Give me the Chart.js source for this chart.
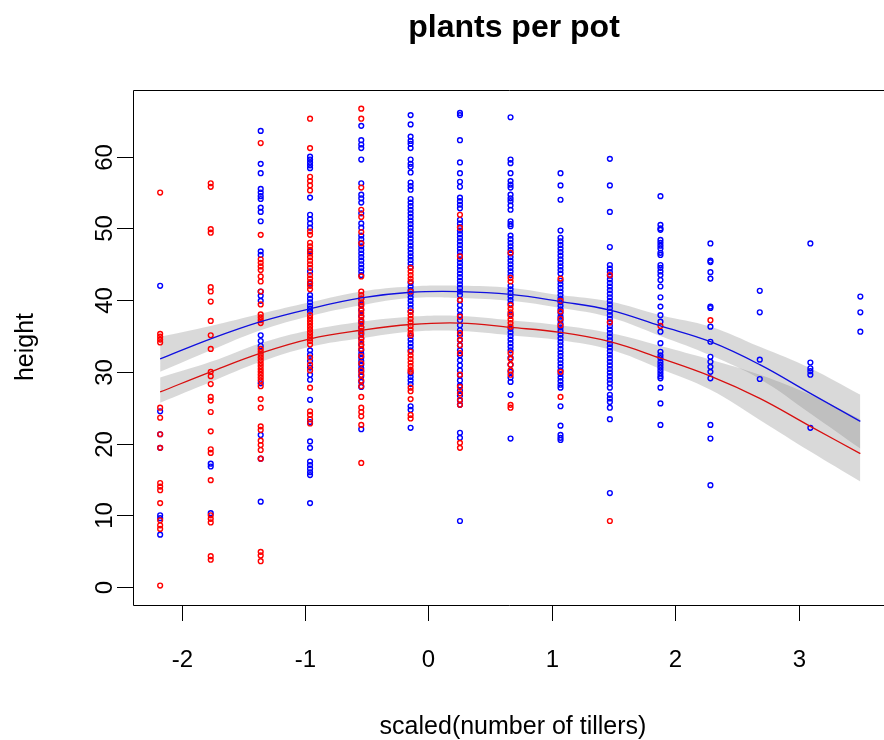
<!DOCTYPE html>
<html><head><meta charset="utf-8">
<script src="https://cdn.jsdelivr.net/npm/chart.js@4.4.1/dist/chart.umd.min.js"></script>
<style>html,body{margin:0;padding:0;background:#fff;}#wrap{width:884px;height:740px;}</style>
</head><body><div id="wrap"><canvas id="c" width="884" height="740"></canvas></div>
<script>
const chartTitle = 'plants per pot';
const xTitle = 'scaled(number of tillers)';
const yTitle = 'height';
const xTicks = [-2, -1, 0, 1, 2, 3];
const yTicks = [0, 10, 20, 30, 40, 50, 60];
const tillerLevels = [-2.175, -1.765, -1.36, -0.96, -0.545, -0.145, 0.255, 0.665, 1.07, 1.47, 1.88, 2.285, 2.685, 3.095, 3.5];

const redHeights = [
  [55.0, 35.3, 34.9, 34.5, 34.1, 25.0, 23.6, 21.3, 19.4, 14.5, 14.0, 13.5, 11.7, 9.3, 8.6, 8.1, 0.2],
  [56.3, 55.8, 49.9, 49.4, 41.8, 41.2, 39.8, 37.1, 35.1, 33.2, 30.0, 29.4, 28.3, 26.5, 26.0, 24.4, 21.7, 19.2, 18.7, 14.9, 10.0, 9.5, 9.0, 4.3, 3.8],
  [61.9, 49.1, 45.7, 45.2, 44.7, 44.2, 43.3, 42.6, 41.2, 39.4, 38.0, 37.6, 37.2, 36.8, 33.2, 32.8, 32.4, 32.0, 31.6, 31.2, 30.8, 30.4, 30.0, 29.6, 29.2, 28.8, 28.0, 26.2, 25.0, 22.4, 21.9, 20.4, 19.8, 19.1, 17.9, 4.9, 4.4, 3.6],
  [65.3, 61.2, 57.2, 56.6, 56.0, 55.3, 49.6, 49.1, 48.0, 47.5, 47.0, 46.5, 46.0, 45.5, 45.0, 44.5, 43.5, 43.0, 42.5, 42.0, 41.5, 37.9, 37.5, 37.1, 36.7, 36.3, 35.9, 35.5, 35.1, 34.7, 34.3, 33.8, 32.0, 31.0, 30.2, 27.8, 24.5, 24.0, 23.4, 22.8],
  [66.7, 65.3, 55.7, 52.6, 51.6, 49.5, 47.9, 43.3, 41.2, 40.7, 40.2, 39.7, 39.2, 38.7, 38.2, 37.7, 37.2, 36.7, 36.2, 35.7, 35.2, 34.7, 34.2, 33.7, 33.2, 32.2, 31.2, 30.2, 29.6, 28.8, 28.0, 26.5, 25.0, 24.4, 23.8, 22.6, 17.3],
  [44.5, 44.0, 43.5, 43.0, 42.6, 41.2, 38.4, 37.9, 37.4, 36.9, 36.4, 35.9, 35.4, 35.1, 32.8, 32.3, 31.8, 31.3, 30.8, 30.3, 30.0, 27.8, 27.3, 26.2, 24.0, 23.5],
  [51.9, 50.1, 46.1, 40.0, 37.7, 35.4, 34.5, 33.7, 32.6, 29.6, 27.9, 27.0, 26.1, 25.4, 20.1, 19.4],
  [46.6, 43.1, 42.6, 39.3, 38.8, 38.3, 37.8, 37.3, 36.8, 36.3, 32.6, 31.8, 31.0, 30.2, 29.6, 25.4, 25.0],
  [43.0, 39.9, 38.4, 37.4, 36.5, 30.0, 26.5],
  [43.5, 36.9, 9.2],
  [36.4],
  [37.2],
  [],
  [],
  []
];

const blueHeights = [
  [42.0, 24.5, 21.3, 19.4, 10.0, 9.6, 7.3],
  [17.2, 16.8, 10.3],
  [63.6, 59.0, 57.7, 55.5, 55.0, 54.5, 54.1, 52.9, 52.3, 51.0, 46.8, 46.3, 41.2, 40.6, 39.9, 35.1, 34.3, 33.6, 28.4, 21.2, 17.9, 11.9],
  [60.0, 59.6, 59.2, 58.8, 58.4, 54.3, 51.9, 51.3, 50.7, 50.1, 46.8, 44.0, 42.3, 40.7, 40.2, 39.7, 39.2, 38.8, 38.4, 33.0, 32.4, 31.5, 30.6, 29.6, 28.9, 26.1, 23.0, 20.3, 19.4, 17.5, 17.0, 16.5, 16.0, 15.6, 11.7],
  [64.3, 62.3, 61.7, 61.2, 59.6, 56.3, 54.7, 54.2, 53.6, 52.1, 50.7, 50.1, 49.0, 48.5, 48.0, 47.5, 47.0, 46.5, 46.0, 45.5, 45.0, 44.5, 44.0, 43.5, 40.2, 39.4, 38.6, 37.8, 37.0, 36.2, 35.4, 34.6, 33.8, 33.0, 32.5, 32.0, 31.5, 31.0, 30.5, 30.0, 29.4, 28.6, 27.9, 22.0],
  [65.8, 64.5, 62.8, 62.2, 61.8, 61.2, 59.6, 59.0, 58.6, 57.8, 56.4, 55.9, 55.4, 54.1, 53.6, 53.1, 52.6, 52.1, 51.6, 51.1, 50.6, 50.1, 49.6, 49.1, 48.6, 48.1, 47.6, 47.1, 46.6, 46.1, 45.6, 45.1, 44.6, 42.4, 41.9, 41.4, 40.9, 40.4, 39.9, 39.4, 38.9, 38.4, 35.0, 34.5, 34.0, 33.5, 33.0, 29.8, 29.3, 28.8, 28.3, 25.2, 24.7, 22.2],
  [66.1, 65.8, 62.3, 59.2, 57.7, 56.5, 55.8, 54.3, 53.8, 53.3, 52.8, 51.2, 50.7, 50.2, 49.7, 49.2, 48.7, 48.2, 47.7, 47.2, 46.7, 46.2, 45.7, 45.2, 44.7, 44.2, 43.7, 43.2, 42.7, 42.2, 41.7, 41.2, 40.7, 40.0, 39.3, 38.6, 37.9, 37.2, 36.5, 35.8, 35.1, 34.4, 33.7, 33.0, 32.3, 31.6, 30.9, 30.2, 29.5, 28.8, 28.1, 27.4, 26.7, 26.0, 25.4, 21.5, 20.8, 9.2],
  [65.5, 59.6, 59.1, 57.7, 56.6, 56.1, 55.7, 54.7, 54.2, 53.8, 53.2, 52.6, 51.0, 50.6, 50.3, 49.0, 48.5, 48.0, 47.5, 47.0, 46.5, 46.0, 45.5, 45.0, 44.5, 44.0, 43.5, 42.0, 41.5, 41.0, 40.5, 40.0, 39.5, 38.0, 36.0, 35.5, 35.0, 34.5, 34.0, 33.5, 33.0, 32.0, 31.0, 30.0, 29.2, 28.6, 26.8, 20.7],
  [57.7, 56.0, 54.0, 49.7, 48.7, 48.2, 47.7, 47.2, 46.7, 46.2, 45.7, 45.2, 44.7, 44.2, 43.7, 42.7, 42.2, 41.7, 41.2, 40.7, 40.2, 39.7, 39.2, 38.7, 38.2, 37.7, 37.2, 36.7, 36.2, 35.7, 35.2, 34.7, 34.2, 33.7, 33.2, 32.7, 32.2, 31.7, 31.2, 30.7, 30.2, 29.7, 29.2, 28.7, 28.2, 27.8, 25.2, 22.5, 21.2, 20.8, 20.5],
  [59.7, 56.0, 52.3, 47.4, 44.9, 44.4, 43.9, 43.4, 42.9, 42.4, 41.9, 41.4, 40.9, 40.4, 39.9, 39.4, 38.9, 38.4, 37.9, 37.4, 36.9, 36.4, 35.9, 35.4, 34.9, 34.4, 33.9, 33.4, 32.9, 32.4, 31.9, 31.4, 30.9, 30.4, 29.9, 29.4, 28.9, 28.4, 27.8, 26.8, 26.3, 25.8, 25.0, 23.4, 13.1],
  [54.5, 50.5, 50.0, 49.8, 48.4, 48.0, 47.6, 47.2, 46.6, 46.3, 44.9, 44.5, 44.0, 43.5, 42.8, 41.9, 40.4, 39.1, 37.9, 37.0, 35.6, 34.0, 32.8, 32.3, 31.9, 31.4, 31.0, 30.6, 30.2, 29.8, 29.4, 29.1, 27.8, 25.6, 22.6],
  [47.9, 45.5, 45.3, 43.9, 43.0, 39.1, 38.9, 36.3, 34.2, 32.1, 31.4, 30.7, 30.0, 29.1, 22.6, 20.7, 14.2],
  [41.3, 38.3, 31.7, 29.0],
  [47.9, 31.3, 30.5, 30.1, 29.6, 22.2],
  [40.5, 38.3, 35.6]
];

const blueFit   = [31.8, 34.6, 37.0, 38.8, 40.3, 41.1, 41.2, 40.8, 39.8, 38.6, 36.4, 34.2, 31.0, 27.0, 23.1];
const blueUpper = [34.9, 36.4, 38.1, 39.7, 41.2, 41.9, 42.0, 41.7, 40.7, 39.8, 37.9, 36.3, 33.5, 30.5, 26.8];
const blueLower = [30.0, 33.0, 35.8, 37.8, 39.3, 40.3, 40.3, 39.9, 38.9, 37.6, 35.0, 32.3, 29.0, 24.2, 19.3];
const redFit    = [27.2, 30.0, 32.6, 34.6, 35.8, 36.6, 36.8, 36.2, 35.5, 34.2, 31.9, 29.4, 26.3, 22.4, 18.6];
const redUpper  = [29.2, 31.4, 34.0, 35.8, 37.0, 37.7, 37.8, 37.2, 36.5, 35.4, 33.6, 31.7, 29.6, 26.8, 23.4];
const redLower  = [25.7, 28.6, 31.4, 33.5, 34.7, 35.6, 35.7, 35.1, 34.4, 33.1, 30.4, 27.5, 23.3, 18.9, 14.7];

function pts(groups) {
  const out = [];
  groups.forEach((g, i) => g.forEach(v => out.push({ x: tillerLevels[i], y: v })));
  return out;
}
function curve(vals) { return vals.map((v, i) => ({ x: tillerLevels[i], y: v })); }

const FONT = '"Liberation Sans", Arial, Helvetica, sans-serif';
const axesPlugin = {
  id: 'rAxes',
  afterDraw(chart) {
    const { ctx, chartArea: a } = chart;
    const xs = chart.scales.x, ys = chart.scales.y;
    ctx.save();
    ctx.strokeStyle = '#000';
    ctx.lineWidth = 1;
    ctx.beginPath();
    ctx.moveTo(chart.width + 5, Math.round(a.top) + 0.5);
    ctx.lineTo(Math.round(a.left) + 0.5, Math.round(a.top) + 0.5);
    ctx.lineTo(Math.round(a.left) + 0.5, Math.round(a.bottom) + 0.5);
    ctx.lineTo(chart.width + 5, Math.round(a.bottom) + 0.5);
    ctx.stroke();
    ctx.fillStyle = '#000';
    ctx.font = '24px ' + FONT;
    ctx.textAlign = 'center';
    ctx.textBaseline = 'alphabetic';
    xTicks.forEach(v => {
      const px = Math.round(xs.getPixelForValue(v)) + 0.5;
      ctx.beginPath(); ctx.moveTo(px, a.bottom); ctx.lineTo(px, a.bottom + 16); ctx.stroke();
      ctx.fillText(String(v), px, 667);
    });
    yTicks.forEach(v => {
      const py = Math.round(ys.getPixelForValue(v)) + 0.5;
      ctx.beginPath(); ctx.moveTo(a.left - 16, py); ctx.lineTo(a.left, py); ctx.stroke();
      ctx.save(); ctx.translate(112, py); ctx.rotate(-Math.PI / 2);
      ctx.fillText(String(v), 0, 0); ctx.restore();
    });
    ctx.font = '25px ' + FONT;
    ctx.fillText(xTitle, 513, 734);
    ctx.save(); ctx.translate(33, 347); ctx.rotate(-Math.PI / 2);
    ctx.fillText(yTitle, 0, 0); ctx.restore();
    ctx.font = 'bold 32px ' + FONT;
    ctx.fillText(chartTitle, 514, 37);
    ctx.restore();
  }
};

const bandColor = 'rgba(128,128,128,0.3)';
const lineBase = { type: 'line', pointRadius: 0, tension: 0.4, showLine: true };

new Chart(document.getElementById('c'), {
  type: 'scatter',
  data: {
    datasets: [
      Object.assign({}, lineBase, { label: 'blueUpper', data: curve(blueUpper), fill: 1, backgroundColor: bandColor, borderWidth: 0, borderColor: 'rgba(0,0,0,0)', order: 10 }),
      Object.assign({}, lineBase, { label: 'blueLower', data: curve(blueLower), fill: false, borderWidth: 0, borderColor: 'rgba(0,0,0,0)', order: 10 }),
      Object.assign({}, lineBase, { label: 'redUpper', data: curve(redUpper), fill: 3, backgroundColor: bandColor, borderWidth: 0, borderColor: 'rgba(0,0,0,0)', order: 9 }),
      Object.assign({}, lineBase, { label: 'redLower', data: curve(redLower), fill: false, borderWidth: 0, borderColor: 'rgba(0,0,0,0)', order: 9 }),
      { label: 'blue', data: pts(blueHeights), pointRadius: 2.4, borderWidth: 1.4, borderColor: '#0000ff', backgroundColor: 'rgba(0,0,0,0)', order: 6 },
      { label: 'red', data: pts(redHeights), pointRadius: 2.4, borderWidth: 1.4, borderColor: '#ff0000', backgroundColor: 'rgba(0,0,0,0)', order: 5 },
      Object.assign({}, lineBase, { label: 'blueFit', data: curve(blueFit), fill: false, borderWidth: 1.3, borderColor: '#1010e0', order: 1 }),
      Object.assign({}, lineBase, { label: 'redFit', data: curve(redFit), fill: false, borderWidth: 1.3, borderColor: '#d81010', order: 0 })
    ]
  },
  options: {
    responsive: false,
    animation: false,
    devicePixelRatio: 1,
    layout: { padding: { left: 133, top: 90, right: 0, bottom: 135 } },
    plugins: { legend: { display: false }, tooltip: { enabled: false }, title: { display: false } },
    elements: { point: { hoverRadius: 2.4 } },
    scales: {
      x: { type: 'linear', min: -2.395, max: 3.661, display: false },
      y: { type: 'linear', min: -2.51, max: 69.3, display: false }
    }
  },
  plugins: [axesPlugin]
});
</script>
</body></html>
